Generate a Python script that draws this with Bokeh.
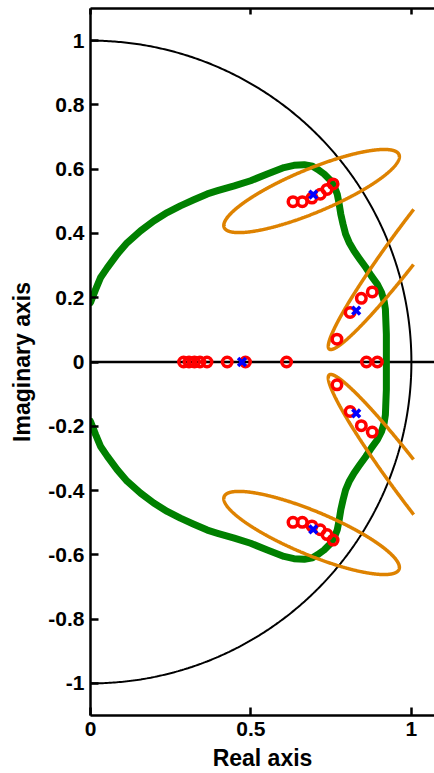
import numpy as np
from bokeh.plotting import figure
from bokeh.models import Range1d, LinearAxis, FixedTicker, Span, CustomJSTickFormatter
from bokeh.embed import file_html
from bokeh.resources import INLINE

# ---- data -------------------------------------------------------------
# zeros on the real axis
zero_real = [0.290, 0.307, 0.324, 0.341, 0.363, 0.426, 0.483, 0.611, 0.860, 0.894]
# complex zeros in the upper half plane (their conjugates are drawn as well)
zero_cplx_re = [0.631, 0.660, 0.690, 0.716, 0.737, 0.756, 0.768, 0.809, 0.844, 0.878]
zero_cplx_im = [0.499, 0.499, 0.510, 0.522, 0.537, 0.554, 0.071, 0.154, 0.198, 0.218]
# poles (upper half plane and real axis)
pole_re = [0.472, 0.694, 0.828]
pole_im = [0.000, 0.521, 0.160]
# stability boundary, upper half (mirrored below the real axis)
locus_re = [0.000, 0.016, 0.031, 0.052, 0.083, 0.114, 0.156, 0.197, 0.239, 0.280,
            0.322, 0.364, 0.396, 0.448, 0.499, 0.551, 0.603, 0.634, 0.666, 0.692,
            0.707, 0.728, 0.749, 0.761, 0.769, 0.775, 0.780, 0.787, 0.795, 0.806,
            0.821, 0.837, 0.858, 0.875, 0.894, 0.907, 0.915, 0.919, 0.920, 0.922,
            0.922, 0.922]
locus_im = [0.185, 0.226, 0.262, 0.293, 0.335, 0.371, 0.408, 0.439, 0.465, 0.486,
            0.505, 0.523, 0.533, 0.548, 0.564, 0.585, 0.605, 0.612, 0.614, 0.609,
            0.600, 0.585, 0.564, 0.543, 0.522, 0.491, 0.460, 0.429, 0.398, 0.372,
            0.346, 0.323, 0.294, 0.268, 0.242, 0.216, 0.190, 0.164, 0.138, 0.086,
            0.034, 0.000]
# uncertainty ellipses around the complex poles (upper half)
ell_cx = [0.689, 1.015]
ell_cy = [0.532, 0.3995]
ell_a = [0.295, 0.450]
ell_b = [0.0675, 0.052]
ell_angle_deg = [22.6, 53.0]
ell_clip_x = 1.008

# axis ticks
x_ticks = [0, 0.5, 1]
x_tick_labels = ["0", "0.5", "1"]
y_ticks = [-1, -0.8, -0.6, -0.4, -0.2, 0, 0.2, 0.4, 0.6, 0.8, 1]
y_tick_labels = ["-1", "-0.8", "-0.6", "-0.4", "-0.2", "0", "0.2", "0.4", "0.6", "0.8", "1"]

FONT = "Liberation Sans"
ORANGE = "#DE8200"
GREEN = "#008000"

# ---- figure -----------------------------------------------------------
p = figure(width=434, height=773, x_range=Range1d(0, 1.072), y_range=Range1d(-1.1, 1.1),
           output_backend="svg", toolbar_location=None,
           min_border_left=90, min_border_right=0, min_border_top=8, min_border_bottom=58)
p.grid.visible = False
p.outline_line_color = None
p.background_fill_color = "white"
p.border_fill_color = "white"


def label_formatter(vals, labs):
    return CustomJSTickFormatter(args=dict(vals=vals, labs=labs), code="""
        for (let i = 0; i < vals.length; i++) {
            if (Math.abs(vals[i] - tick) < 1e-9) return labs[i];
        }
        return '';
    """)


def style_axis(ax):
    ax.axis_line_width = 2.5
    ax.axis_line_color = "black"
    ax.major_tick_line_width = 2.5
    ax.major_tick_in = 8
    ax.major_tick_out = 0
    ax.minor_tick_line_color = None
    ax.major_label_text_font = FONT
    ax.major_label_text_font_size = "21px"
    ax.major_label_text_font_style = "bold"
    ax.major_label_text_color = "black"
    ax.major_label_text_line_height = 1.0
    ax.axis_label_text_font = FONT
    ax.axis_label_text_font_size = "23px"
    ax.axis_label_text_font_style = "bold"
    ax.axis_label_text_color = "black"
    ax.axis_label_text_line_height = 1.0


xa = p.xaxis[0]
style_axis(xa)
xa.ticker = FixedTicker(ticks=x_ticks)
xa.formatter = label_formatter(x_ticks, x_tick_labels)
xa.axis_label = "Real axis"
xa.major_label_standoff = 6
xa.axis_label_standoff = 6

ya = p.yaxis[0]
style_axis(ya)
ya.ticker = FixedTicker(ticks=y_ticks)
ya.formatter = label_formatter(y_ticks, y_tick_labels)
ya.axis_label = "Imaginary axis"
ya.major_label_standoff = 6
ya.axis_label_standoff = 10

top = LinearAxis(ticker=FixedTicker(ticks=x_ticks))
style_axis(top)
top.major_tick_in = 6
top.major_label_text_color = None
top.major_label_standoff = 0
p.add_layout(top, "above")

# real axis line
p.add_layout(Span(location=0, dimension="width", line_color="black",
                  line_width=2.5, level="underlay"))

# stability boundary (upper half, then its mirror image back to the start)
g_re = locus_re + locus_re[::-1][1:]
g_im = locus_im + [-v for v in locus_im[::-1][1:]]
p.line(g_re, g_im, line_color=GREEN, line_width=7, line_cap="round", line_join="round")

# unit circle, right half
th = np.linspace(np.pi / 2, -np.pi / 2, 500)
p.line(np.cos(th), np.sin(th), line_color="black", line_width=2)

# ellipses and their conjugates
t = np.linspace(0, 2 * np.pi, 800)
for cx, cy, a, b, ang in zip(ell_cx, ell_cy, ell_a, ell_b, ell_angle_deg):
    r = np.deg2rad(ang)
    ex = cx + a * np.cos(t) * np.cos(r) - b * np.sin(t) * np.sin(r)
    ey = cy + a * np.cos(t) * np.sin(r) + b * np.sin(t) * np.cos(r)
    ex = np.where(ex > ell_clip_x, np.nan, ex)
    for sgn in (1, -1):
        p.line(ex, sgn * ey, line_color=ORANGE, line_width=3.5)

# zeros
z_re = zero_real + zero_cplx_re + zero_cplx_re
z_im = [0.0] * len(zero_real) + zero_cplx_im + [-v for v in zero_cplx_im]
p.scatter(z_re, z_im, marker="circle", size=9.5, fill_color=None,
          line_color="#FF0000", line_width=3.5)

# poles
pr = pole_re + [x for x, y in zip(pole_re, pole_im) if y != 0]
pi_ = pole_im + [-y for y in pole_im if y != 0]
p.scatter(pr, pi_, marker="x", size=11, line_color="#0000FF", line_width=3.5)

open("out.html", "w").write(file_html(p, INLINE))
